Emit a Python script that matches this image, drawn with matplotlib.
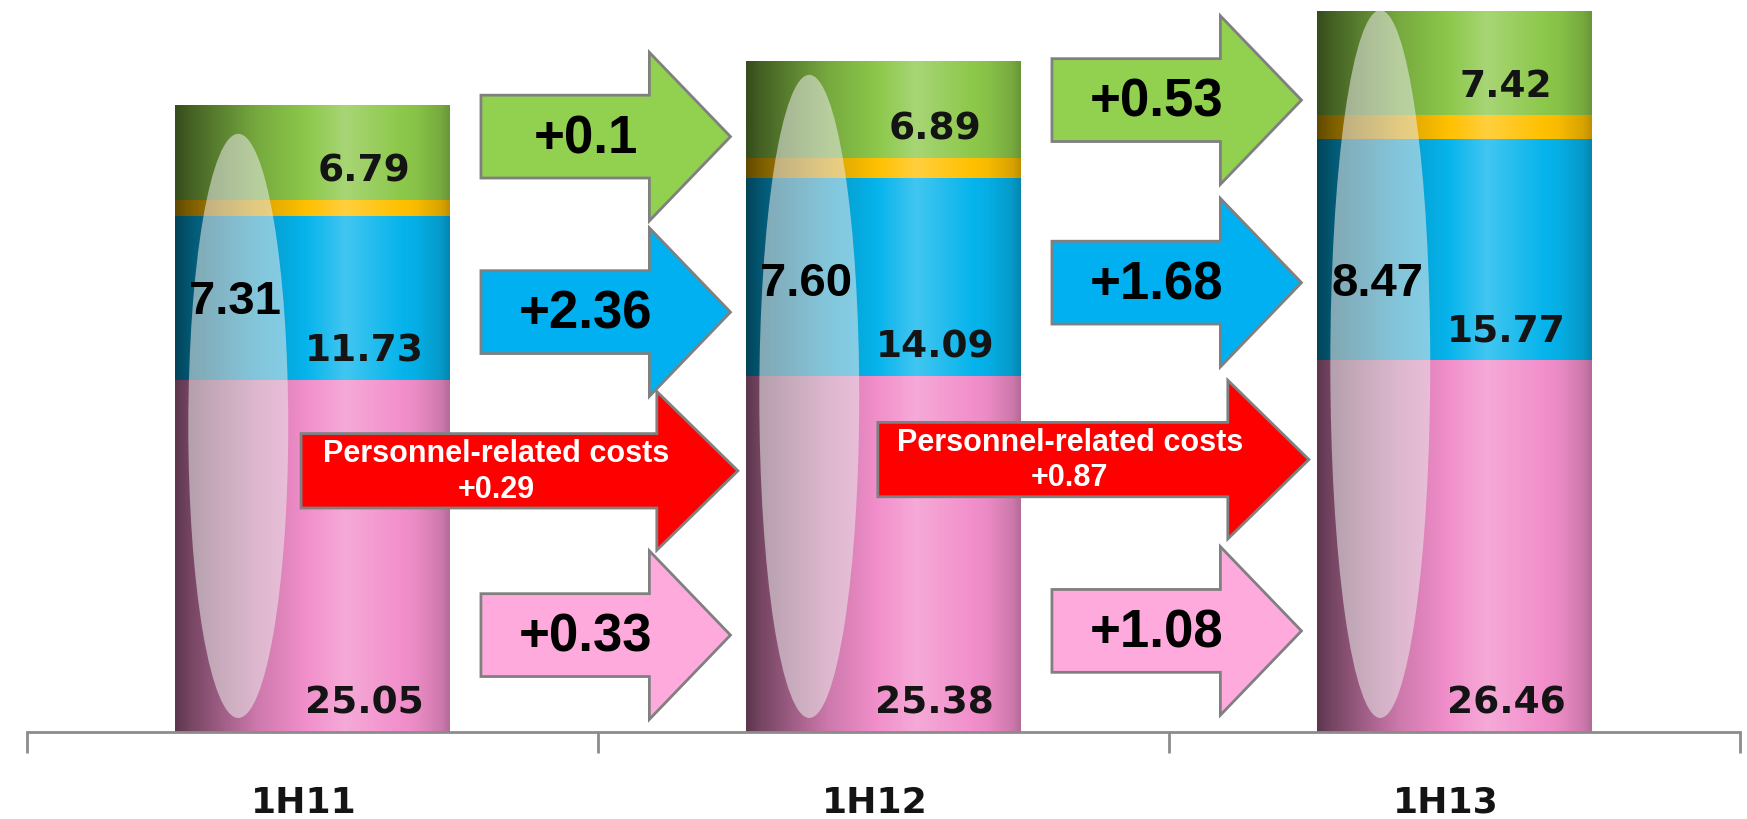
import numpy as np
import matplotlib
matplotlib.use('Agg')
import matplotlib.pyplot as plt
from matplotlib.patches import Ellipse, FancyArrow
from matplotlib.colors import to_rgb

# data
categories = ['1H11', '1H12', '1H13']
pink = [25.05, 25.38, 26.46]
blue = [11.73, 14.09, 15.77]
yellow = [1.1, 1.4, 1.7]
green = [6.79, 6.89, 7.42]
personnel = [7.31, 7.60, 8.47]

# layout
arrow_y = {'green': [42.4, 45.0], 'blue': [29.9, 32.0], 'red': [18.6, 19.4], 'pink': [6.9, 7.2]}
ellipse_top = [42.6, 46.8, 51.4]
personnel_y = [30.7, 32.0, 32.0]

seg_colors = {'pink': '#f28fcb', 'blue': '#06b4ec', 'yellow': '#ffc000', 'green': '#8cc84a'}
arrow_colors = {'green': '#92d050', 'blue': '#00b0f0', 'red': '#ff0000', 'pink': '#ffaadc'}

x = np.arange(len(categories))
bw = 0.48

fig = plt.figure(figsize=(17.47, 8.2), dpi=100)
ax = fig.add_axes([27 / 1747, 87 / 820, 1713 / 1747, 733 / 820])


def shade(c):
    # cylinder-like horizontal gradient
    c = np.array(to_rgb(c))
    t = np.linspace(0, 1, 200)
    m = np.interp(t, [0, 0.05, 0.3, 0.62, 0.88, 0.97, 1.0], [0.38, 0.48, 0.85, 1.12, 0.97, 0.85, 0.75])
    img = np.zeros((1, len(t), 3))
    for i, mi in enumerate(m):
        if mi <= 1:
            img[0, i] = c * mi
        else:
            img[0, i] = c + (1 - c) * (mi - 1) * 2
    return np.clip(img, 0, 1)


bottom = np.zeros(len(x))
seg_bottoms = {}
for name, vals in [('pink', pink), ('blue', blue), ('yellow', yellow), ('green', green)]:
    bars = ax.bar(x, vals, bw, bottom=bottom, color=seg_colors[name], linewidth=0, zorder=1)
    img = shade(seg_colors[name])
    for p in bars:
        im = ax.imshow(img, extent=(p.get_x(), p.get_x() + p.get_width(), p.get_y(), p.get_y() + p.get_height()),
                       aspect='auto', zorder=1.5, interpolation='bilinear')
        im.set_clip_path(p)
    seg_bottoms[name] = bottom.copy()
    bottom = bottom + np.array(vals)

# segment value labels
for name, vals in [('pink', pink), ('blue', blue), ('green', green)]:
    for i, v in enumerate(vals):
        ax.text(x[i] + 0.09, seg_bottoms[name][i] + 2.1, f'{v:.2f}', ha='center', va='center',
                fontsize=27, fontweight='bold', family='DejaVu Sans', color='#141414', zorder=4)

# personnel-related ellipse
for i, v in enumerate(personnel):
    cx = x[i] - 0.13
    e = Ellipse((cx, (ellipse_top[i] + 1.0) / 2), 0.175, ellipse_top[i] - 1.0,
                facecolor='#ececec', alpha=0.55, edgecolor='none', zorder=3)
    ax.add_patch(e)
    ax.text(cx - 0.005, personnel_y[i], f'{v:.2f}', ha='center', va='center', fontsize=34,
            fontweight='bold', family='Liberation Sans', color='black', zorder=4)

# change arrows
def fmt(d):
    return '%+g' % round(d, 2)

series = {'green': green, 'blue': blue, 'pink': pink, 'red': personnel}
for name in ['green', 'blue', 'pink', 'red']:
    vals = series[name]
    for i in range(len(vals) - 1):
        y = arrow_y[name][i]
        if name == 'red':
            x0 = x[i] - 0.01 if i == 1 else x[i] - 0.02
            x1 = x[i] + 0.745
            w, hw = 5.3, 11.3
        else:
            x0 = x[i] + 0.295
            x1 = x[i] + 0.732
            w, hw = 5.9, 12.0
        arr = FancyArrow(x0, y, x1 - x0, 0, width=w, head_width=hw, head_length=0.142,
                         length_includes_head=True, facecolor=arrow_colors[name],
                         edgecolor='#808080', linewidth=2, zorder=5)
        ax.add_patch(arr)
        d = fmt(vals[i + 1] - vals[i])
        if name == 'red':
            ax.text((x0 + x1 - 0.142) / 2 + 0.03, y, 'Personnel-related costs\n' + d, ha='center',
                    va='center', fontsize=22, fontweight='bold', family='Liberation Sans',
                    color='white', linespacing=1.25, zorder=6)
        else:
            ax.text(x[i] + 0.478, y - 0.1, d, ha='center', va='center', fontsize=38,
                    fontweight='bold', family='Liberation Sans', color='black', zorder=6)

ax.set_xlim(-0.5, 2.5)
ax.set_ylim(0, 52.2)
for s in ['top', 'right', 'left']:
    ax.spines[s].set_visible(False)
ax.spines['bottom'].set_color('#8c8c8c')
ax.spines['bottom'].set_linewidth(2)
ax.set_yticks([])
ax.set_xticks([-0.5, 0.5, 1.5, 2.5])
ax.set_xticklabels([])
ax.tick_params(axis='x', which='major', length=15, width=2, color='#8c8c8c')
ax.set_xticks(x - 0.015, minor=True)
ax.set_xticklabels(categories, minor=True, fontsize=26, fontweight='bold', family='DejaVu Sans', color='#141414')
ax.tick_params(axis='x', which='minor', length=0, pad=38)

fig.savefig('out.png', dpi=100)
